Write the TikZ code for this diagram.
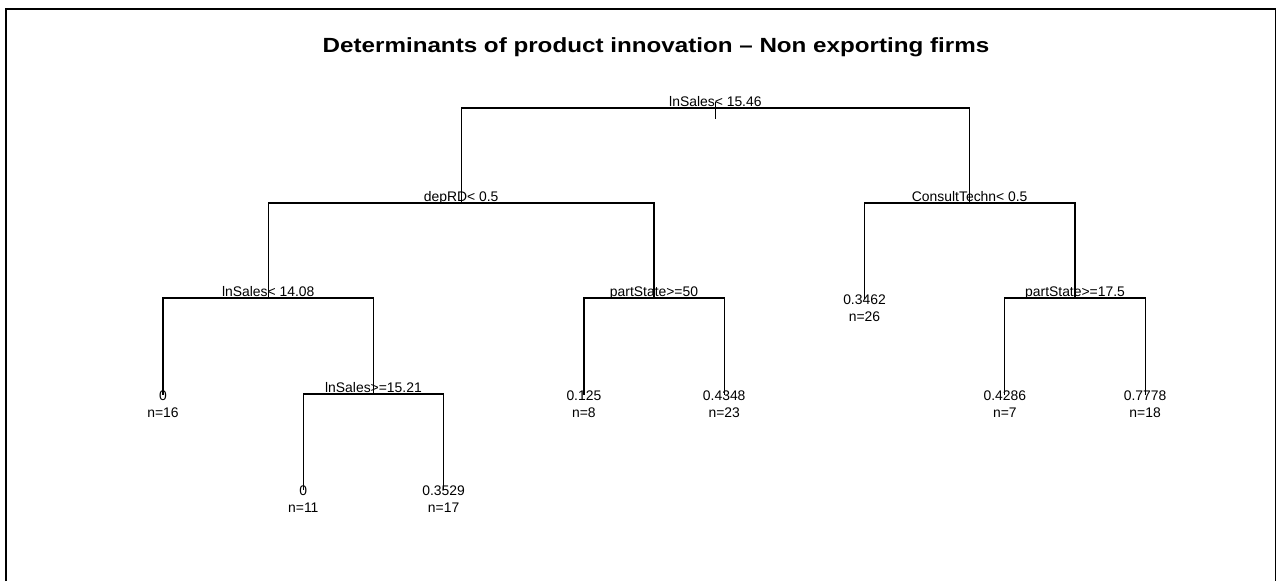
\documentclass[tikz,border=0pt]{standalone}
\usepackage{fontspec}
\setmainfont{Liberation Sans}
\begin{document}
\begin{tikzpicture}[x=1pt,y=-1pt,
  treeline/.style={line width=1.2pt, draw=black, line cap=rect},
  framebox/.style={line width=1.2pt, draw=black},
  splitlabel/.style={anchor=base, inner sep=0pt, font=\fontsize{13.9}{16}\selectfont},
  leaflabel/.style={anchor=base, inner sep=0pt, font=\fontsize{13.9}{16}\selectfont},
  titlelabel/.style={anchor=base, inner sep=0pt, font=\fontsize{20.5}{23}\selectfont\bfseries}]
\useasboundingbox (0,0) rectangle (1281,581);
\fill[white] (0,0) rectangle (1281,581);
% frame
\coordinate (fbl) at (6,581);
\coordinate (ftl) at (6,9);
\coordinate (ftr) at (1275.5,9);
\coordinate (fbr) at (1275.5,581);
\draw[framebox] (fbl) -- (ftl) -- (ftr) -- (fbr);
% title
\node[titlelabel] (title) at (656,52) {\scalebox{1.18}[1]{Determinants of product innovation -- Non exporting firms}};
% node points
\coordinate (root) at (715.4,108);
\coordinate (dep) at (461.1,203);
\coordinate (con) at (969.7,203);
\coordinate (ls14) at (268.2,298);
\coordinate (ps50) at (654,298);
\coordinate (lf26) at (864.5,298);
\coordinate (ps17) at (1075,298);
\coordinate (lf16) at (163,394);
\coordinate (ls15) at (373.45,394);
\coordinate (lf8) at (583.9,394);
\coordinate (lf23) at (724.2,394);
\coordinate (lf7) at (1004.8,394);
\coordinate (lf18) at (1145.1,394);
\coordinate (lf11) at (303.3,489);
\coordinate (lf17) at (443.6,489);
% connectors
\draw[treeline] ([yshift=5pt]root) -- ([yshift=-10pt]root);
\draw[treeline] (dep) |- (root) -| (con);
\draw[treeline] (ls14) |- (dep) -| (ps50);
\draw[treeline] (lf26) |- (con) -| (ps17);
\draw[treeline] (lf16) |- (ls14) -| (ls15);
\draw[treeline] (lf8) |- (ps50) -| (lf23);
\draw[treeline] (lf7) |- (ps17) -| (lf18);
\draw[treeline] (lf11) |- (ls15) -| (lf17);
% split labels
\node[splitlabel] (troot) at ([yshift=2pt]root) {lnSales< 15.46};
\node[splitlabel] (tdep) at ([yshift=2pt]dep) {depRD< 0.5};
\node[splitlabel] (tcon) at ([yshift=2pt]con) {ConsultTechn< 0.5};
\node[splitlabel] (tls14) at ([yshift=2pt]ls14) {lnSales< 14.08};
\node[splitlabel] (tps50) at ([yshift=2pt]ps50) {partState>=50};
\node[splitlabel] (tps17) at ([yshift=2pt]ps17) {partState>=17.5};
\node[splitlabel] (tls15) at ([yshift=2pt]ls15) {lnSales>=15.21};
% leaf labels
\node[leaflabel] (v26) at ([yshift=-6pt]lf26) {0.3462};
\node[leaflabel] (n26) at ([yshift=-23.5pt]lf26) {n=26};
\node[leaflabel] (v16) at ([yshift=-6pt]lf16) {0};
\node[leaflabel] (n16) at ([yshift=-23.5pt]lf16) {n=16};
\node[leaflabel] (v8) at ([yshift=-6pt]lf8) {0.125};
\node[leaflabel] (n8) at ([yshift=-23.5pt]lf8) {n=8};
\node[leaflabel] (v23) at ([yshift=-6pt]lf23) {0.4348};
\node[leaflabel] (n23) at ([yshift=-23.5pt]lf23) {n=23};
\node[leaflabel] (v7) at ([yshift=-6pt]lf7) {0.4286};
\node[leaflabel] (n7) at ([yshift=-23.5pt]lf7) {n=7};
\node[leaflabel] (v18) at ([yshift=-6pt]lf18) {0.7778};
\node[leaflabel] (n18) at ([yshift=-23.5pt]lf18) {n=18};
\node[leaflabel] (v11) at ([yshift=-6pt]lf11) {0};
\node[leaflabel] (n11) at ([yshift=-23.5pt]lf11) {n=11};
\node[leaflabel] (v17) at ([yshift=-6pt]lf17) {0.3529};
\node[leaflabel] (n17) at ([yshift=-23.5pt]lf17) {n=17};
\end{tikzpicture}
\end{document}
